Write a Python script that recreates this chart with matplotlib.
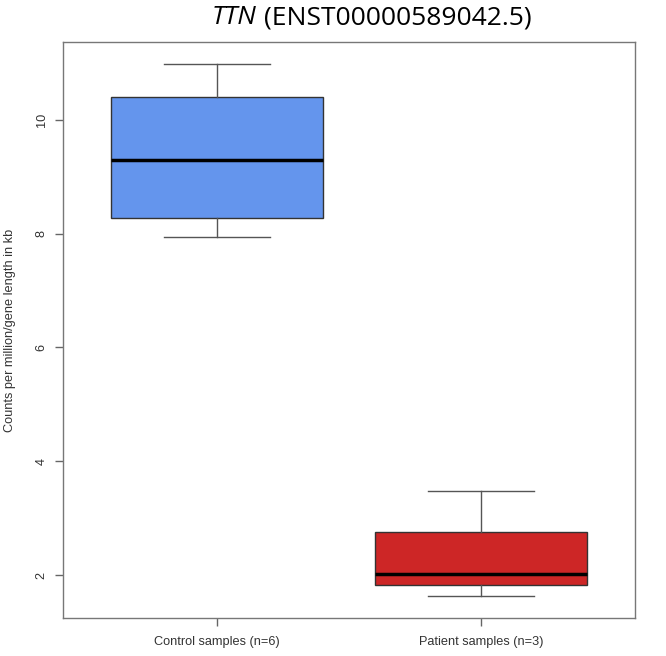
import matplotlib
matplotlib.use("Agg")
import matplotlib.pyplot as plt

categories = ["Control samples (n=6)", "Patient samples (n=3)"]
whisker_low = [7.95, 1.63]
q1 = [8.28, 1.82]
median = [9.30, 2.02]
q3 = [10.40, 2.75]
whisker_high = [10.99, 3.47]
colors = ["#6495ED", "#CD2626"]
yticks = [2, 4, 6, 8, 10]

fig = plt.figure(figsize=(6.66, 6.56), dpi=100)
ax = fig.add_axes([63/666, 1-617.7/656, (635-63)/666, (617.7-42)/656])

stats = []
for i, c in enumerate(categories):
    stats.append(dict(label=c, whislo=whisker_low[i], q1=q1[i], med=median[i],
                      q3=q3[i], whishi=whisker_high[i], fliers=[]))

bp = ax.bxp(stats, positions=[1, 2], widths=0.8, patch_artist=True, showfliers=False,
            boxprops=dict(edgecolor="#333333", linewidth=1.0),
            medianprops=dict(color="black", linewidth=2.5, solid_capstyle="butt"),
            whiskerprops=dict(color="#555555", linewidth=1.0),
            capprops=dict(color="#555555", linewidth=1.0),
            capwidths=0.4)
for patch, col in zip(bp["boxes"], colors):
    patch.set_facecolor(col)

ax.set_xlim(0.42, 2.58)
ax.set_ylim(1.25, 11.37)
ax.set_yticks(yticks)
ax.set_yticklabels([str(v) for v in yticks], rotation=90, va="center",
                   fontsize=9.2, family="Liberation Sans", color="#333333")
ax.set_xticks([1, 2])
ax.set_xticklabels(categories, fontsize=9.2, family="Liberation Sans", color="#333333")
ax.tick_params(axis="both", direction="out", length=6, width=1, color="#666666")
ax.tick_params(axis="y", pad=5)
ax.tick_params(axis="x", pad=7)
for s in ax.spines.values():
    s.set_color("#777777")
    s.set_linewidth(1.0)

fig.text(10/666, 1-330/656, "Counts per million/gene length in kb", fontsize=9.2,
         family="Liberation Sans", color="#333333", rotation=90,
         ha="center", va="center")

t1 = fig.text(212/666, 1-18/656, "TTN", fontsize=19, family="Open Sans",
              style="italic", ha="left", va="center", color="black")
fig.canvas.draw()
bb = t1.get_window_extent()
x2 = bb.x1 / fig.dpi / 6.66
fig.text(x2 + 7/666, 1-18/656, "(ENST00000589042.5)", fontsize=19,
         family="Open Sans", ha="left", va="center", color="black")

fig.savefig("out.png", dpi=100)
